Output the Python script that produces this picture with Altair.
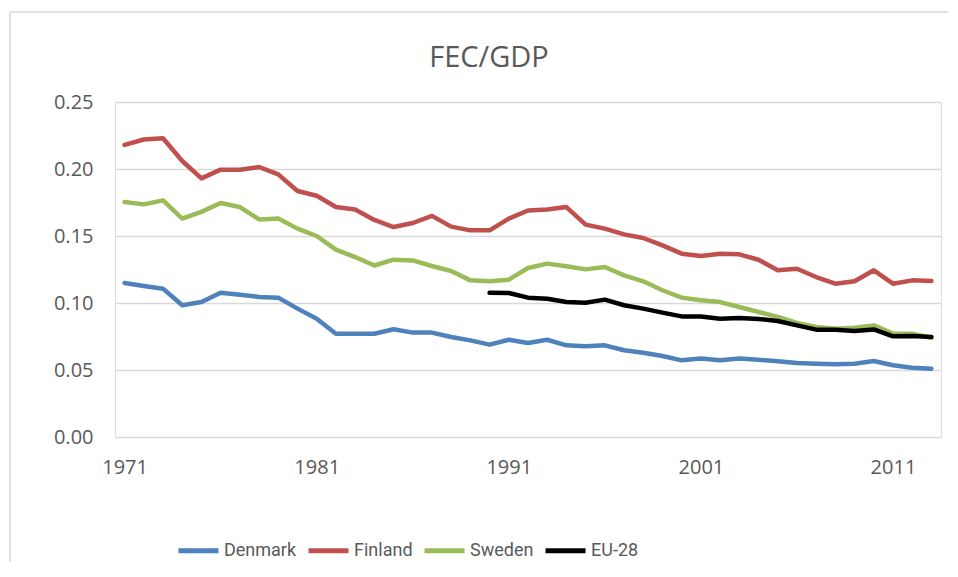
import altair as alt
import pandas as pd

years = list(range(1971, 2014))

denmark = [0.1149, 0.1127, 0.1107, 0.0983, 0.1007, 0.1077, 0.1062, 0.1045, 0.1040, 0.0958,
           0.0883, 0.0771, 0.0771, 0.0771, 0.0804, 0.0779, 0.0779, 0.0746, 0.0721, 0.0689,
           0.0726, 0.0701, 0.0726, 0.0684, 0.0677, 0.0684, 0.0647, 0.0629, 0.0604, 0.0572,
           0.0585, 0.0572, 0.0585, 0.0577, 0.0565, 0.0552, 0.0547, 0.0542, 0.0547, 0.0567,
           0.0535, 0.0517, 0.0510]
finland = [0.2180, 0.2220, 0.2230, 0.2060, 0.1930, 0.1995, 0.1995, 0.2015, 0.1960, 0.1836,
           0.1800, 0.1716, 0.1697, 0.1620, 0.1567, 0.1597, 0.1650, 0.1570, 0.1542, 0.1542,
           0.1630, 0.1690, 0.1697, 0.1716, 0.1585, 0.1555, 0.1512, 0.1485, 0.1430, 0.1368,
           0.1351, 0.1368, 0.1363, 0.1323, 0.1244, 0.1256, 0.1194, 0.1144, 0.1162, 0.1244,
           0.1144, 0.1169, 0.1164]
sweden = [0.1754, 0.1736, 0.1766, 0.1630, 0.1680, 0.1746, 0.1716, 0.1624, 0.1630, 0.1555,
          0.1500, 0.1398, 0.1343, 0.1280, 0.1323, 0.1318, 0.1276, 0.1239, 0.1169, 0.1162,
          0.1174, 0.1261, 0.1294, 0.1274, 0.1251, 0.1269, 0.1206, 0.1162, 0.1095, 0.1040,
          0.1020, 0.1007, 0.0970, 0.0933, 0.0896, 0.0851, 0.0821, 0.0808, 0.0816, 0.0833,
          0.0771, 0.0771, 0.0741]
eu_years = list(range(1990, 2014))
eu28 = [0.1077, 0.1075, 0.1040, 0.1032, 0.1007, 0.1002, 0.1025, 0.0983, 0.0958, 0.0928,
        0.0900, 0.0900, 0.0883, 0.0888, 0.0881, 0.0866, 0.0833, 0.0801, 0.0801, 0.0791,
        0.0803, 0.0751, 0.0754, 0.0746]

series_names = ["Denmark", "Finland", "Sweden", "EU-28"]
series_colors = ["#4f81bd", "#c0504d", "#9bbb59", "#000000"]
x_ticks = [1971, 1981, 1991, 2001, 2011]
y_ticks = [0.0, 0.05, 0.10, 0.15, 0.20, 0.25]
chart_title = "FEC/GDP"

rows = []
for name, ys, vals in [("Denmark", years, denmark), ("Finland", years, finland),
                       ("Sweden", years, sweden), ("EU-28", eu_years, eu28)]:
    for yr, v in zip(ys, vals):
        rows.append({"year": yr, "value": v, "series": name})
df = pd.DataFrame(rows)

FONT = "Open Sans"
LEGEND_FONT = "Roboto"
GRAY = "#595959"
W, H = 826, 335
PAD = {"left": 107, "top": 94, "right": 7, "bottom": 125}

color = alt.Color(
    "series:N",
    scale=alt.Scale(domain=series_names, range=series_colors),
    legend=alt.Legend(
        title=None, orient="none", direction="horizontal",
        legendX=61, legendY=426,
        symbolType="stroke", symbolSize=1600, symbolStrokeWidth=5,
        labelFont=LEGEND_FONT, labelFontSize=18, labelColor=GRAY,
        labelOffset=3, columnPadding=1,
    ),
)

x = alt.X("year:Q", scale=alt.Scale(domain=[1970.5, 2013.5], nice=False, zero=False),
          axis=alt.Axis(values=x_ticks, format="d", title=None, grid=False, ticks=False,
                        tickSize=0, domain=False, labelFont=FONT, labelFontSize=20,
                        labelColor=GRAY, labelPadding=20))
y = alt.Y("value:Q", scale=alt.Scale(domain=[0, 0.25], nice=False),
          axis=alt.Axis(values=y_ticks, format=".2f", title=None, grid=True,
                        gridColor="#d9d9d9", gridWidth=1.5, ticks=False, tickSize=0,
                        domain=False, labelFont=FONT, labelFontSize=20, labelColor=GRAY,
                        labelPadding=22))

base = alt.Chart(df)
layers = []
for name in series_names:
    layers.append(
        base.transform_filter(alt.datum.series == name)
        .mark_line(strokeWidth=4.5, strokeCap="round", strokeJoin="round")
        .encode(x=x, y=y, color=color)
    )

right_end = W + PAD["right"]
bottom_end = H + PAD["bottom"]
one = pd.DataFrame({"t": [chart_title]})
left_edge = alt.Chart(one).mark_rule(stroke="#d9d9d9", strokeWidth=1.5).encode(
    x=alt.value(-105), y=alt.value(-90), y2=alt.value(bottom_end))
top_edge = alt.Chart(one).mark_rule(stroke="#d9d9d9", strokeWidth=1.5).encode(
    x=alt.value(-105), x2=alt.value(right_end), y=alt.value(-90))

title = alt.Chart(one).mark_text(
    font=FONT, fontSize=29, color=GRAY, align="center", baseline="alphabetic"
).encode(text="t:N", x=alt.value(374), y=alt.value(-35))

chart = alt.layer(left_edge, top_edge, title, *layers).properties(
    width=W, height=H,
    autosize=alt.AutoSizeParams(type="none"),
    padding=PAD,
).configure_view(stroke=None).configure(background="white")

chart.save("out.html", embed_options={"renderer": "svg", "actions": False})
